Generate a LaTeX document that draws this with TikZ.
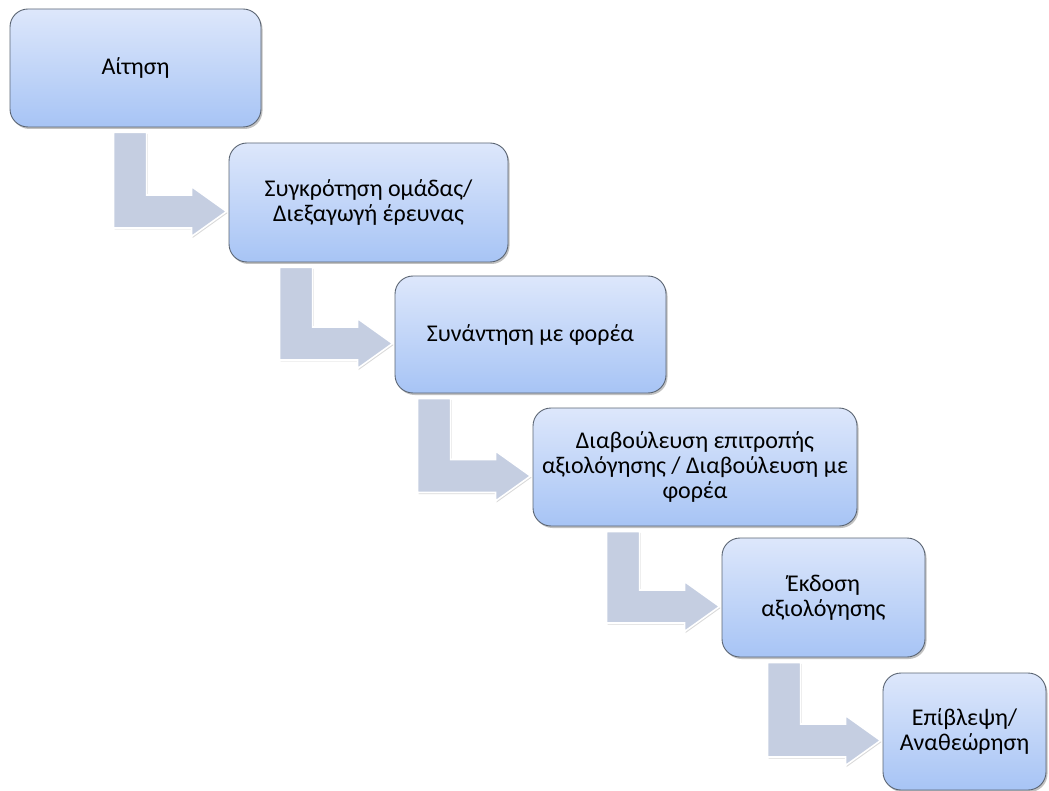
\documentclass[tikz,border=0pt]{standalone}
\usepackage{fontspec}
\setmainfont{Carlito}
\usepackage{tikz}
\usetikzlibrary{calc,shadows}

\definecolor{boxtop}{HTML}{DDE7FB}
\definecolor{boxbottom}{HTML}{A7C4F5}
\definecolor{boxline}{HTML}{5B6573}
\definecolor{arrowfill}{HTML}{C5CEE1}

\tikzset{
  stage/.style={draw=boxline, line width=0.9pt, rounded corners=18pt,
    top color=boxtop, bottom color=boxbottom, inner sep=0pt, align=center,
    font=\fontsize{24}{25}\selectfont,
    drop shadow={shadow xshift=1.5pt, shadow yshift=-2pt, opacity=0.35, fill=black!70}},
  bentarrow/.style={fill=arrowfill, draw=white, line width=1.6pt, line join=miter,
    drop shadow={shadow xshift=1pt, shadow yshift=-1.5pt, opacity=0.25, fill=black!60}}
}

% fleche coudee : du bas de #1 vers la gauche de #2
\newcommand{\flowarrow}[2]{%
  \path[bentarrow] let \p1=($(#2.west)+(-2pt,-9pt)$), \p2=(#1.south) in
    (\p1) -- (\x1-35pt,\y1+25pt) -- (\x1-35pt,\y1+16.5pt)
    -- (\x1-80pt,\y1+16.5pt) -- (\x1-80pt,\y2-5pt) -- (\x1-113pt,\y2-5pt)
    -- (\x1-113pt,\y1-16.5pt) -- (\x1-35pt,\y1-16.5pt) -- (\x1-35pt,\y1-25pt) -- cycle;}

\begin{document}
\begin{tikzpicture}[x=1pt,y=1pt]
        \useasboundingbox (0,0) rectangle (1049,-791);
        % Etapes
        \path(135.5,-68) node[stage, minimum width=251pt, minimum height=118pt] (aitisi) {Αίτηση};
        \path(368.5,-202.5) node[stage, minimum width=279pt, minimum height=119pt] (omada) {Συγκρότηση ομάδας/\\Διεξαγωγή έρευνας};
        \path(530.5,-334.5) node[stage, minimum width=271pt, minimum height=117pt] (synantisi) {Συνάντηση με φορέα};
        \path(695,-467) node[stage, minimum width=324pt, minimum height=118pt] (diavoulefsi) {Διαβούλευση επιτροπής\\αξιολόγησης / Διαβούλευση με\\φορέα};
        \path(823.5,-597.5) node[stage, minimum width=203pt, minimum height=119pt] (ekdosi) {Έκδοση\\αξιολόγησης};
        \path(964.5,-731.5) node[stage, minimum width=163pt, minimum height=117pt] (epivlepsi) {Επίβλεψη/\\Αναθεώρηση};
        % Fleches
        \flowarrow{aitisi}{omada}
        \flowarrow{omada}{synantisi}
        \flowarrow{synantisi}{diavoulefsi}
        \flowarrow{diavoulefsi}{ekdosi}
        \flowarrow{ekdosi}{epivlepsi}
\end{tikzpicture}
\end{document}
